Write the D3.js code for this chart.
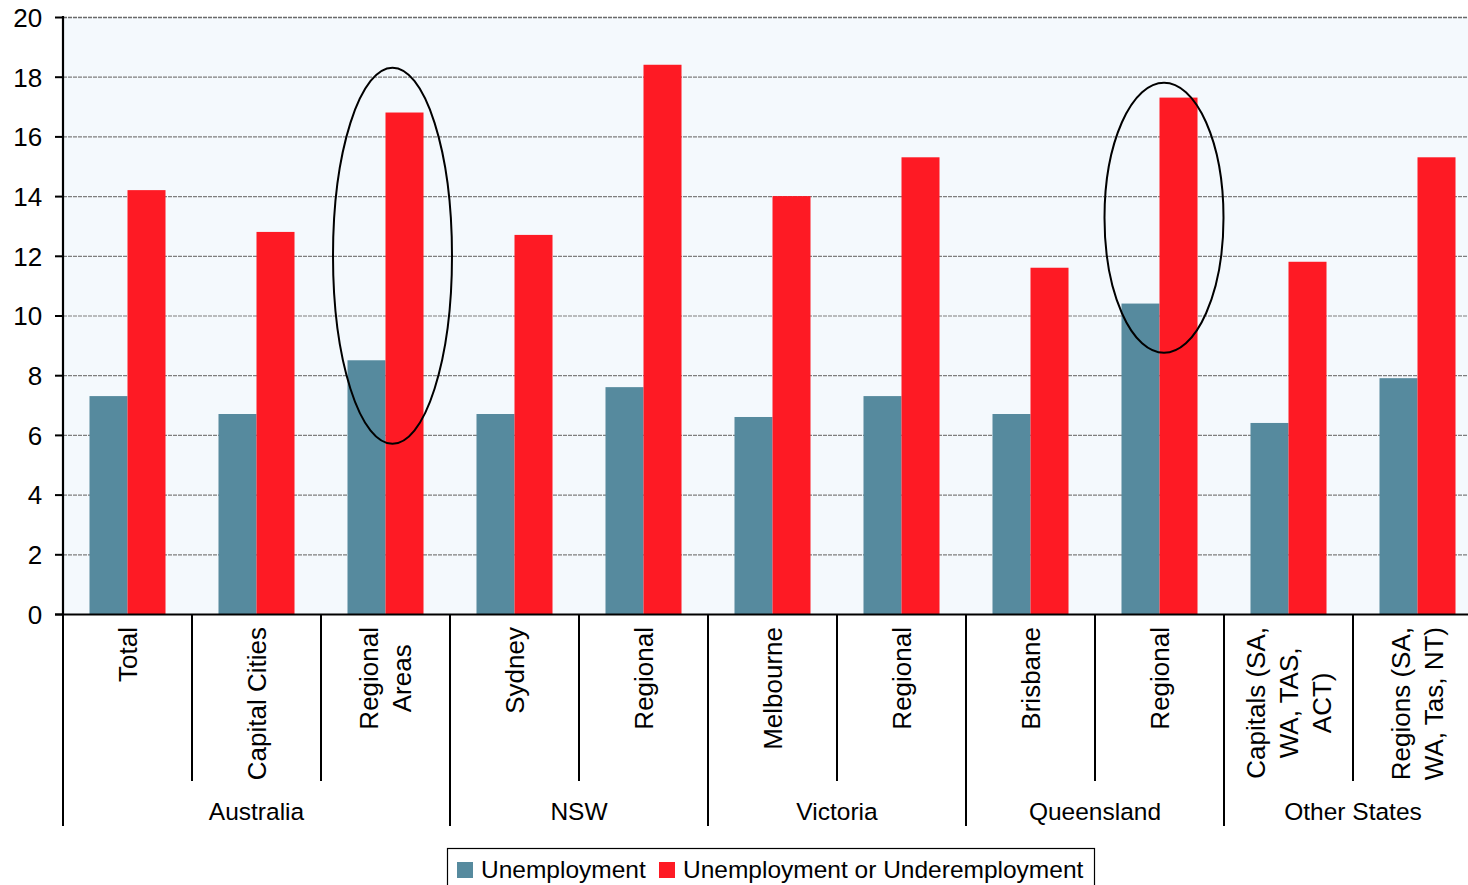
<!DOCTYPE html>
<html>
<head>
<meta charset="utf-8">
<script src="https://cdn.jsdelivr.net/npm/d3@7"></script>
<style>
  html, body { margin: 0; padding: 0; background: #ffffff; overflow: hidden; }
  svg { display: block; }
  text { font-family: "Liberation Sans", Arial, sans-serif; fill: #000; }
</style>
</head>
<body>
<svg id="chart" width="1468" height="885"></svg>
<script>
// ---- data ----
const categories = ["Total", "Capital Cities", "Regional|Areas", "Sydney", "Regional", "Melbourne", "Regional", "Brisbane", "Regional", "Capitals (SA,|WA, TAS,|ACT)", "Regions (SA,|WA, Tas, NT)"];
const regions = ["Australia", "NSW", "Victoria", "Queensland", "Other States"];
const regionSizes = [3, 2, 2, 2, 2];
const seriesNames = ["Unemployment", "Unemployment or Underemployment"];
const unemployment = [7.3, 6.7, 8.5, 6.7, 7.6, 6.6, 7.3, 6.7, 10.4, 6.4, 7.9];
const underemployment = [14.2, 12.8, 16.8, 12.7, 18.4, 14.0, 15.3, 11.6, 17.3, 11.8, 15.3];
const yTicks = [0, 2, 4, 6, 8, 10, 12, 14, 16, 18, 20];
// highlighted ellipses: category index, value range [bottom, top]
const highlightCats = [2, 8];
const highlightLow = [5.7, 8.75];
const highlightHigh = [18.3, 17.8];

const colors = ["#568a9e", "#fe1a24"];

(function () {
const svg = d3.select("#chart");
const mLeft = 63, mRight = 1482, mTop = 17, mBottom = 614;

const x0 = d3.scaleBand().domain(d3.range(categories.length)).range([mLeft, mRight]).padding(0);
const x1 = d3.scaleBand().domain([0, 1]).range([0, x0.bandwidth()]).paddingInner(0).paddingOuter(0.697);
const y = d3.scaleLinear().domain([0, 20]).range([mBottom, mTop]);

// plot background
svg.append("rect").attr("x", mLeft).attr("y", mTop).attr("width", mRight - mLeft).attr("height", mBottom - mTop).attr("fill", "#f4f9fd");

// gridlines
svg.append("g").selectAll("line").data(yTicks.filter(d => d > 0)).join("line")
  .attr("x1", mLeft).attr("x2", mRight)
  .attr("y1", d => y(d) + 0.5).attr("y2", d => y(d) + 0.5)
  .attr("stroke", d => d === 20 ? "#6a6a6a" : "#7e7e7e")
  .attr("stroke-width", d => d === 20 ? 1.6 : 1.2)
  .attr("stroke-dasharray", "4,1");

// bars
const seriesData = [unemployment, underemployment];
seriesData.forEach((vals, s) => {
  svg.append("g").selectAll("rect").data(vals).join("rect")
    .attr("x", (d, i) => x0(i) + x1(s))
    .attr("y", d => y(d))
    .attr("width", x1.bandwidth())
    .attr("height", d => y(0) - y(d))
    .attr("fill", colors[s]);
});

// y axis
const yAxis = d3.axisLeft(y).tickValues(yTicks).tickSize(8).tickPadding(5);
const ya = svg.append("g").attr("transform", `translate(${mLeft},0)`).call(yAxis);
ya.select(".domain").remove();
ya.selectAll(".tick line").attr("stroke", "#000").attr("stroke-width", 2);
ya.selectAll(".tick text").attr("font-size", 26).attr("font-family", "Liberation Sans, Arial, sans-serif").attr("fill", "#000").attr("dx", "-0.3em").attr("dy", "0.36em");
svg.append("line").attr("x1", mLeft).attr("x2", mLeft).attr("y1", mTop - 1).attr("y2", mBottom + 1).attr("stroke", "#000").attr("stroke-width", 2.2);
// x axis line
svg.append("line").attr("x1", mLeft - 8).attr("x2", mRight).attr("y1", mBottom + 0.5).attr("y2", mBottom + 0.5).attr("stroke", "#000").attr("stroke-width", 2);

// category separators
const regionStarts = [];
let acc = 0;
regionSizes.forEach(n => { regionStarts.push(acc); acc += n; });
for (let i = 0; i <= categories.length; i++) {
  const xp = i < categories.length ? x0(i) : mRight;
  const isRegion = regionStarts.includes(i) || i === categories.length;
  if (xp > 1468) continue;
  svg.append("line").attr("x1", xp).attr("x2", xp)
    .attr("y1", mBottom).attr("y2", isRegion ? 826 : 781)
    .attr("stroke", "#000").attr("stroke-width", 2);
}

// category labels (rotated, block aligned at top, lines centered)
const lineH = 33;
categories.forEach((c, i) => {
  const lines = c.split("|");
  const cx = x0(i) + x0.bandwidth() / 2;
  const g = svg.append("g");
  const texts = lines.map((ln, k) => {
    const off = (k - (lines.length - 1) / 2) * lineH;
    return g.append("text")
      .attr("font-size", 26)
      .attr("text-anchor", "middle")
      .attr("dy", "0.35em")
      .attr("transform", `translate(${cx + off},0) rotate(-90)`)
      .text(ln);
  });
  const maxLen = d3.max(texts, t => t.node().getComputedTextLength());
  const cyText = 627 + maxLen / 2;
  texts.forEach((t, k) => {
    const off = (k - (lines.length - 1) / 2) * lineH;
    t.attr("transform", `translate(${cx + off},${cyText}) rotate(-90)`);
  });
});

// region labels
regions.forEach((r, k) => {
  const s = regionStarts[k];
  const e = s + regionSizes[k];
  const xs = x0(s);
  const xe = e < categories.length ? x0(e) : mRight;
  const mid = k === regions.length - 1 ? x0(s) + x0.bandwidth() : (xs + xe) / 2;
  svg.append("text").attr("x", mid).attr("y", 820).attr("text-anchor", "middle").attr("font-size", 24.5).text(r);
});

// highlight ellipses
const ellOffsets = [7, 4.5];
highlightCats.forEach((ci, k) => {
  const cx = x0(ci) + x0.bandwidth() / 2 + ellOffsets[k];
  const yTop = y(highlightHigh[k]), yBot = y(highlightLow[k]);
  svg.append("ellipse")
    .attr("cx", cx).attr("cy", (yTop + yBot) / 2)
    .attr("rx", 59.5).attr("ry", (yBot - yTop) / 2)
    .attr("fill", "none").attr("stroke", "#000").attr("stroke-width", 2);
});

// legend
const lg = svg.append("g").attr("transform", "translate(447,848)");
lg.append("rect").attr("x", 0.5).attr("y", 0.5).attr("width", 647).attr("height", 50).attr("fill", "#fff").attr("stroke", "#000").attr("stroke-width", 1.2);
const legendX = [10, 212];
seriesNames.forEach((n, s) => {
  lg.append("rect").attr("x", legendX[s]).attr("y", 14).attr("width", 16).attr("height", 16).attr("fill", colors[s]);
  lg.append("text").attr("x", legendX[s] + 24).attr("y", 30).attr("font-size", 24.5).text(n);
});
})();
</script>
</body>
</html>
